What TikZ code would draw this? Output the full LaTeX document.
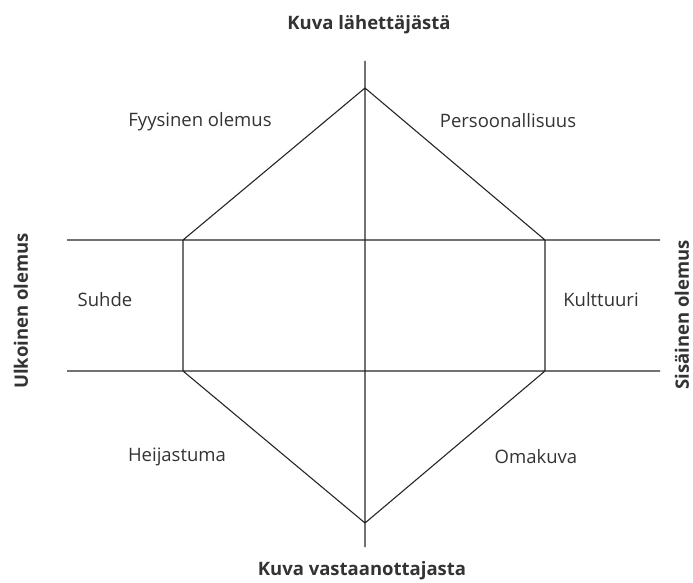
\documentclass[tikz,border=0pt]{standalone}
\usepackage{fontspec}
\setmainfont{Open Sans}
\usepackage{tikz}

\begin{document}
\begin{tikzpicture}[x=1pt,y=-1pt,line width=1.1pt,
    lbl/.style={text=black!80,font=\fontsize{18.5}{20}\selectfont,inner sep=0pt},
    head/.style={lbl,font=\fontsize{18.5}{20}\selectfont\bfseries}]
  \useasboundingbox (0,0) rectangle (693,583);
  \coordinate (top) at (365,88);
  \coordinate (bot) at (365,523);
  \coordinate (ul) at (183,240);
  \coordinate (ur) at (545,240);
  \coordinate (ll) at (183,371);
  \coordinate (lr) at (545,371);
  \coordinate (vtop) at (365,61);
  \coordinate (vbot) at (365,547);
  \coordinate (hal) at (67,240);
  \coordinate (har) at (660,240);
  \coordinate (hbl) at (67,371);
  \coordinate (hbr) at (660,371);
  \node[head] (send) at (369,25) {Kuva lähettäjästä};
  \node[head] (recv) at (362,571) {Kuva vastaanottajasta};
  \node[head,rotate=90] (ext) at (21,311) {Ulkoinen olemus};
  \node[head,rotate=90] (int) at (682,315) {Sisäinen olemus};
  \node[lbl] (phys) at (200,122) {Fyysinen olemus};
  \node[lbl] (pers) at (508,121) {Persoonallisuus};
  \node[lbl] (rel) at (105,300) {Suhde};
  \node[lbl] (cult) at (601,300) {Kulttuuri};
  \node[lbl] (refl) at (177,457) {Heijastuma};
  \node[lbl] (self) at (536,457) {Omakuva};
  \draw[black!85] (top) -- (ur) -- (lr) -- (bot) -- (ll) -- (ul) -- cycle
  (vtop) -- (vbot)
  (hal) -- (har)
  (hbl) -- (hbr);
\end{tikzpicture}
\end{document}
